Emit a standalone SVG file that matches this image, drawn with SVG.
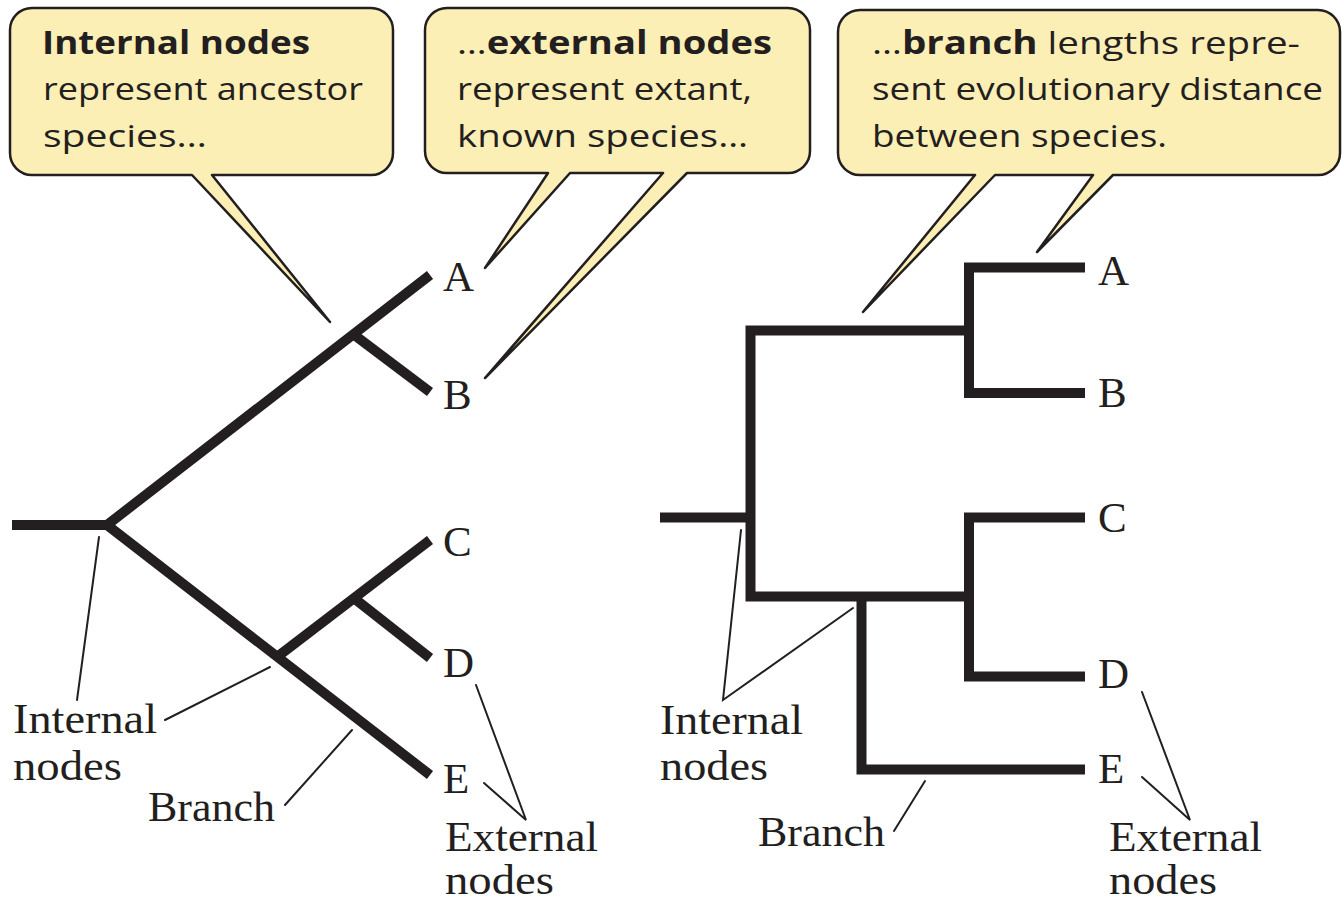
<svg xmlns="http://www.w3.org/2000/svg" width="1342" height="903" viewBox="0 0 1342 903">
  <style>
    .callout { fill: #fcefb6; stroke: #231f20; stroke-width: 2.5; stroke-linejoin: round; }
    .ctext { font-family: "Open Sans", "Noto Sans", sans-serif; font-size: 31.5px; fill: #231f20; }
    .b { font-weight: bold; }
    .branch { fill: none; stroke: #231f20; stroke-width: 10; stroke-linecap: butt; stroke-linejoin: miter; }
    .leader { fill: none; stroke: #231f20; stroke-width: 2; stroke-linecap: round; stroke-linejoin: miter; }
    .label { font-family: "Liberation Serif", "Times New Roman", serif; font-size: 43px; fill: #231f20; }
  </style>

  <rect width="1342" height="903" fill="#ffffff"/>

  <!-- Callout: internal nodes -->
  <g id="callout-internal">
    <path class="callout" d="M 32,8 H 371 A 22 22 0 0 1 393,30 V 153 A 22 22 0 0 1 371,175 H 212 L 330,322 L 192,175 H 32 A 22 22 0 0 1 10,153 V 30 A 22 22 0 0 1 32,8 Z"/>
    <text class="ctext b" x="42" y="54" textLength="268" lengthAdjust="spacingAndGlyphs">Internal nodes</text>
    <text class="ctext" x="43" y="100" textLength="320" lengthAdjust="spacingAndGlyphs">represent ancestor</text>
    <text class="ctext" x="43" y="147" textLength="164" lengthAdjust="spacingAndGlyphs">species…</text>
  </g>

  <!-- Callout: external nodes -->
  <g id="callout-external">
    <path class="callout" d="M 447,8 H 788 A 22 22 0 0 1 810,30 V 151 A 22 22 0 0 1 788,173 H 687 L 485,378 L 663,173 H 570 L 485,268 L 548,173 H 447 A 22 22 0 0 1 425,151 V 30 A 22 22 0 0 1 447,8 Z"/>
    <text class="ctext" x="457" y="54" textLength="315" lengthAdjust="spacingAndGlyphs">…<tspan class="b">external nodes</tspan></text>
    <text class="ctext" x="457" y="100" textLength="295" lengthAdjust="spacingAndGlyphs">represent extant,</text>
    <text class="ctext" x="457" y="147" textLength="291" lengthAdjust="spacingAndGlyphs">known species…</text>
  </g>

  <!-- Callout: branch lengths -->
  <g id="callout-branch">
    <path class="callout" d="M 860,10 H 1318 A 22 22 0 0 1 1340,32 V 153 A 22 22 0 0 1 1318,175 H 1113 L 1037,252 L 1093,175 H 995 L 863,312 L 975,175 H 860 A 22 22 0 0 1 838,153 V 32 A 22 22 0 0 1 860,10 Z"/>
    <text class="ctext" x="872" y="54" textLength="428" lengthAdjust="spacingAndGlyphs">…<tspan class="b">branch</tspan> lengths repre-</text>
    <text class="ctext" x="872" y="100" textLength="451" lengthAdjust="spacingAndGlyphs">sent evolutionary distance</text>
    <text class="ctext" x="872" y="147" textLength="295" lengthAdjust="spacingAndGlyphs">between species.</text>
  </g>

  <!-- Left tree: node groups -->
  <g id="left-tree">
    <g id="left-root"><path class="branch" d="M 12,525 H 108"/></g>
    <g id="left-node-ABCDE"><path class="branch" d="M 430,275 L 107,525 L 430,775"/></g>
    <g id="left-node-AB"><path class="branch" d="M 353,334 L 430,392"/></g>
    <g id="left-node-CDE"><path class="branch" d="M 277,657 L 430,540"/></g>
    <g id="left-node-CD"><path class="branch" d="M 355,599 L 430,658"/></g>
    <g id="left-leaf-A"><text class="label" x="443" y="291">A</text></g>
    <g id="left-leaf-B"><text class="label" x="443" y="409">B</text></g>
    <g id="left-leaf-C"><text class="label" x="443" y="556">C</text></g>
    <g id="left-leaf-D"><text class="label" x="443" y="677">D</text></g>
    <g id="left-leaf-E"><text class="label" x="443" y="793">E</text></g>
  </g>

  <!-- Right tree: node groups -->
  <g id="right-tree">
    <g id="right-root"><path class="branch" d="M 660,517.5 H 751"/></g>
    <g id="right-node-ABCDE"><path class="branch" d="M 970,330.5 H 750.5 V 596.5 H 970"/></g>
    <g id="right-node-AB"><path class="branch" d="M 1085,267.5 H 969 V 393 H 1085"/></g>
    <g id="right-node-CDE"><path class="branch" d="M 861.5,596.5 V 769.5 H 1085"/></g>
    <g id="right-node-CD"><path class="branch" d="M 1085,517.5 H 969 V 676.5 H 1085"/></g>
    <g id="right-leaf-A"><text class="label" x="1098" y="285">A</text></g>
    <g id="right-leaf-B"><text class="label" x="1098" y="407">B</text></g>
    <g id="right-leaf-C"><text class="label" x="1098" y="532">C</text></g>
    <g id="right-leaf-D"><text class="label" x="1098" y="688">D</text></g>
    <g id="right-leaf-E"><text class="label" x="1098" y="783">E</text></g>
  </g>

  <!-- Annotation labels -->
  <g id="left-label-internal">
    <text class="label" x="13" y="733" textLength="144" lengthAdjust="spacingAndGlyphs">Internal</text>
    <text class="label" x="13" y="780" textLength="109" lengthAdjust="spacingAndGlyphs">nodes</text>
  </g>
  <g id="left-label-branch">
    <text class="label" x="148" y="821" textLength="127" lengthAdjust="spacingAndGlyphs">Branch</text>
  </g>
  <g id="left-label-external">
    <text class="label" x="445" y="851" textLength="153" lengthAdjust="spacingAndGlyphs">External</text>
    <text class="label" x="445" y="894" textLength="109" lengthAdjust="spacingAndGlyphs">nodes</text>
  </g>
  <g id="right-label-internal">
    <text class="label" x="660" y="734" textLength="143" lengthAdjust="spacingAndGlyphs">Internal</text>
    <text class="label" x="660" y="780" textLength="108" lengthAdjust="spacingAndGlyphs">nodes</text>
  </g>
  <g id="right-label-branch">
    <text class="label" x="758" y="846" textLength="127" lengthAdjust="spacingAndGlyphs">Branch</text>
  </g>
  <g id="right-label-external">
    <text class="label" x="1109" y="851" textLength="153" lengthAdjust="spacingAndGlyphs">External</text>
    <text class="label" x="1109" y="894" textLength="108" lengthAdjust="spacingAndGlyphs">nodes</text>
  </g>

  <!-- Leader lines -->
  <g id="connectors">
    <path class="leader" d="M 99,537 L 77,700"/>
    <path class="leader" d="M 165,720 L 270,667"/>
    <path class="leader" d="M 285,805 L 352,730"/>
    <path class="leader" d="M 476,685 L 526,820 L 484,783"/>
    <path class="leader" d="M 741,530 L 723,700 L 853,608"/>
    <path class="leader" d="M 925,781 L 894,831"/>
    <path class="leader" d="M 1142,692 L 1190,820 L 1142,777"/>
  </g>
</svg>
